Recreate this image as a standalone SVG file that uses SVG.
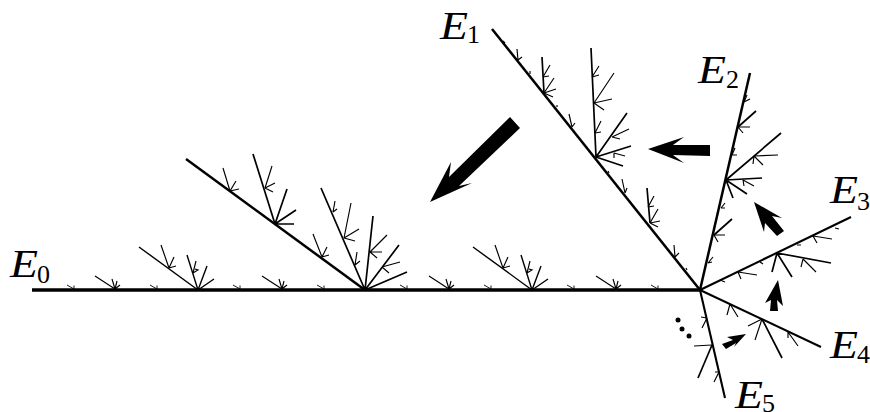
<svg xmlns="http://www.w3.org/2000/svg" width="870" height="412" viewBox="0 0 870 412">
<style>
.b{fill:none;stroke:#000;stroke-linecap:butt}
.w1{stroke-width:3.6}.w2{stroke-width:2.5}.w2b{stroke-width:2.1}.w3{stroke-width:1.7}.w3b{stroke-width:1.4}.w4{stroke-width:1.15}.w5{stroke-width:.9}
.a{fill:#000;stroke:none}
text{font-family:"Liberation Serif",serif;fill:#000}
.e{font-style:italic;font-size:39px}
.s{font-style:normal;font-size:26px}
</style>
<defs>
<path id="tiny" class="b w5" d="M0-1L-7-5M0-1V-4.500"/>
<path id="medium" class="b w4" d="M0-1L-20-14M0-1L-3-11M0-1L2-9M0-1L5-5"/>
<g id="small">
<path class="b w3b" d="M0 0L-59-43M0 0L-11-35M0 0L9-24M0 0L16-11"/>
<path class="b w4" d="M-29-22L-37-45M-29-22L-24-33M-29-22L-22-24M-5-17L-2-29M-5-17L0-20L-3-21"/>
</g>
</defs>
<g id="connectors">
<g id="arrow-1"><polygon class="a" points="430,202 451,162 449,177 510,117 520,128 459,186 472,183"/></g>
<g id="arrow-2"><polygon class="a" points="648,149 684,137 673,145 710,145 710,156 673,155 684,163"/></g>
<g id="arrow-3"><polygon class="a" points="754,202 782,218 772,216 784,231 777,236 765,223 764,232"/></g>
<g id="arrow-4"><polygon class="a" points="778,280 783,306 777,300 778,311 770,311 771,300 765,303"/></g>
<g id="arrow-5"><polygon class="a" points="746,334 727,337 733,340 722,344 726,349 736,343 734,347"/></g>
</g>
<g id="E0">
<path class="b w2" d="M365 290L186 159"/>
<path class="b w3" d="M275 224L253 154M275 224L287 189M275 224L296 210M275 224H294M365 290L321 188M365 290L373 216M365 290L399 245M365 290L407 272"/>
<path class="b w4" d="M230 191L223 168M230 191L236 181M230 191L239 189M265 188L272 166M265 188L275 183M265 188L273 192M322 257L313 234M322 257L327 247M322 257L329 255M344 238L351 203M344 238L359 229M344 238L355 241M333 212L335 201M333 212L337 209M355 265L357 252M355 265L360 261M370 252L387 235M370 252H382M370 252L377 258M382 267L400 262M382 267L389 273"/>
<use href="#tiny" x="74" y="290"/><use href="#medium" x="115" y="290"/><use href="#tiny" x="157" y="290"/><use href="#small" x="198" y="290"/><use href="#tiny" x="240" y="290"/><use href="#medium" x="282" y="290"/><use href="#tiny" x="324" y="290"/><use href="#tiny" x="407" y="290"/><use href="#medium" x="449" y="290"/><use href="#tiny" x="491" y="290"/><use href="#small" x="532" y="290"/><use href="#tiny" x="574" y="290"/><use href="#medium" x="616" y="290"/><use href="#tiny" x="658" y="290"/>
<path class="b w1" d="M32 290H700"/>
<text class="e" x="10" y="277"><tspan textLength="28" lengthAdjust="spacingAndGlyphs">E</tspan><tspan class="s" x="37" y="283">0</tspan></text>
</g>
<g id="E1">
<path class="b w2" d="M700 290L492 29"/>
<path class="b w3" d="M596 157L591 48M596 157L627 113M596 157L631 146M596 157L623 166M544 93L542 57M650 223L647 188"/>
<path class="b w4" d="M594 103L614 73M594 103L612 99M594 103L604 110M592 77L599 66M592 77L599 75M595 133L601 121M595 133L601 132M612 137L629 129M612 137L620 139M614 153L625 156M614 153L614 158M544 93L554 78M544 93L556 89M544 93L553 97M543 77L550 65M543 77L549 76M518 60L517 49M518 60L522 57M572 127L569 114M572 127L575 123M625 193L622 179M625 193L627 188M650 223L658 209M650 223L660 221M650 223L658 227M648 207L654 196M648 207L654 206M675 257L674 245M675 257L679 253M505 43L503 41M530 74L530 71M557 107L557 105M609 173L608 171M687 270L686 268"/>
<text class="e" x="440" y="39"><tspan textLength="28" lengthAdjust="spacingAndGlyphs">E</tspan><tspan class="s" x="467" y="43">1</tspan></text>
</g>
<g id="E2">
<path class="b w2" d="M700 290L750 73"/>
<path class="b w3" d="M726 180L781 133M726 180L762 178M726 180L747 194M726 180L733 198M714 235L732 219M738 127L756 111"/>
<path class="b w4" d="M754 156L778 155M754 156L763 165M754 156L753 164M743 180L754 186M743 180L744 186M738 127H750M738 127L743 133M744 102L750 99M744 102L747 95M732 155H737M732 155L735 148M714 235H725M714 235L718 242M708 263L713 257M708 263L712 262M721 208L725 203M721 208H725"/>
<text class="e" x="698" y="83"><tspan textLength="28" lengthAdjust="spacingAndGlyphs">E</tspan><tspan class="s" x="726" y="88">2</tspan></text>
</g>
<g id="E3">
<path class="b w2b" d="M700 290L851 217"/>
<path class="b w3" d="M777 253L831 263M777 253L792 277M777 253L772 272"/>
<path class="b w4" d="M803 259L816 272M803 259L801 267M738 272L757 275M738 272L741 279M813 236L832 239M813 236L817 243M760 262L763 264M797 245L801 245M720 280L725 282M835 228L839 229"/>
<text class="e" x="830" y="203"><tspan textLength="28" lengthAdjust="spacingAndGlyphs">E</tspan><tspan class="s" x="857" y="210">3</tspan></text>
</g>
<g id="E4">
<path class="b w2b" d="M700 290L821 347"/>
<path class="b w3" d="M762 319L782 358"/>
<path class="b w4" d="M762 319L755 340M762 319L748 326M730 304L738 317M730 304L727 315M788 332L798 346M788 332L788 338"/>
<text class="e" x="830" y="358"><tspan textLength="28" lengthAdjust="spacingAndGlyphs">E</tspan><tspan class="s" x="857" y="363">4</tspan></text>
</g>
<g id="E5">
<path class="b w2b" d="M700 290L725 398"/>
<path class="b w3" d="M712 345L698 378"/>
<path class="b w4" d="M712 345L694 346M707 318L701 317M707 318L702 328M719 372L714 382M719 372L715 372"/>
<text class="e" x="735" y="408"><tspan textLength="28" lengthAdjust="spacingAndGlyphs">E</tspan><tspan class="s" x="762" y="412">5</tspan></text>
</g>
<g id="dots"><circle class="a" cx="678" cy="320" r="2.500"/><circle class="a" cx="682" cy="329" r="2.500"/><circle class="a" cx="689" cy="336" r="2.500"/></g>
</svg>
